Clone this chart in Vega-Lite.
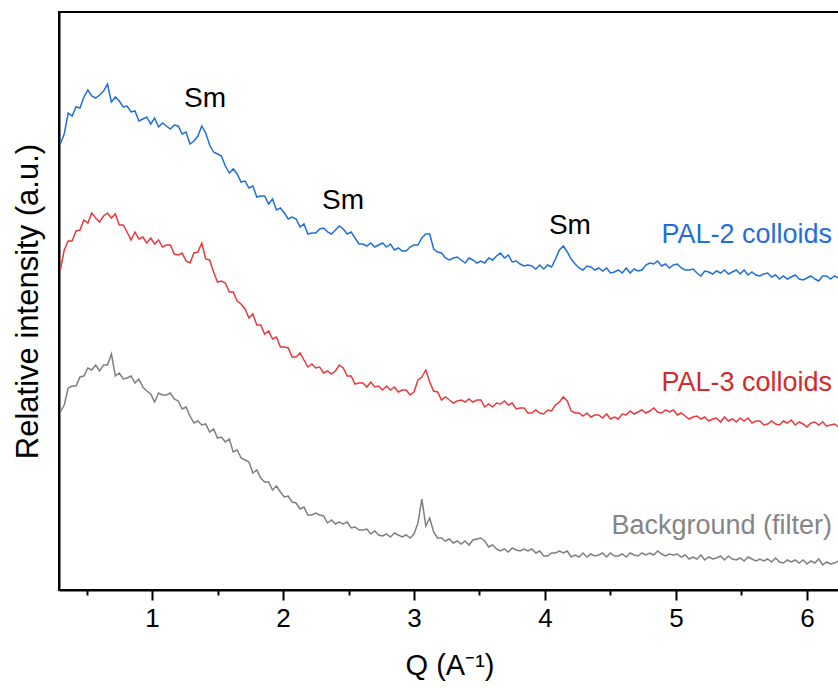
{
"$schema":"https://vega.github.io/schema/vega-lite/v6.json",
"width":781,"height":578,
"autosize":{"type":"none"},
"padding":{"left":59,"top":12,"right":0,"bottom":98},
"background":"white",
"config":{"view":{"stroke":"black","strokeWidth":2},"font":"Liberation Sans"},
"datasets":{
"xrd":[
{"q":0.30,"b":446,"r":320,"g":178},{"q":0.33,"b":456,"r":340,"g":185},{"q":0.36,"b":477,"r":349,"g":202},{"q":0.39,"b":474,"r":349,"g":204},{"q":0.42,"b":483,"r":359,"g":204},{"q":0.45,"b":482,"r":360,"g":213},{"q":0.48,"b":493,"r":370,"g":214},{"q":0.51,"b":500,"r":367,"g":222},{"q":0.54,"b":494,"r":377,"g":220},{"q":0.57,"b":492,"r":372,"g":225},
{"q":0.60,"b":495,"r":368,"g":219},{"q":0.63,"b":499,"r":374,"g":225},{"q":0.66,"b":506,"r":377,"g":225},{"q":0.69,"b":488,"r":372,"g":236},{"q":0.72,"b":493,"r":376,"g":214},{"q":0.75,"b":489,"r":365,"g":217},{"q":0.78,"b":483,"r":365,"g":211},{"q":0.81,"b":484,"r":358,"g":212},{"q":0.84,"b":478,"r":350,"g":214},{"q":0.87,"b":479,"r":358,"g":207},
{"q":0.90,"b":469,"r":351,"g":211},{"q":0.93,"b":471,"r":353,"g":203},{"q":0.96,"b":473,"r":347,"g":199},{"q":0.99,"b":466,"r":352,"g":196},{"q":1.02,"b":472,"r":346,"g":188},{"q":1.05,"b":463,"r":350,"g":197},{"q":1.08,"b":467,"r":343,"g":195},{"q":1.11,"b":464,"r":345,"g":195},{"q":1.14,"b":461,"r":345,"g":197},{"q":1.17,"b":465,"r":336,"g":191},
{"q":1.20,"b":464,"r":335,"g":189},{"q":1.23,"b":456,"r":337,"g":181},{"q":1.26,"b":458,"r":329,"g":183},{"q":1.29,"b":446,"r":327,"g":174},{"q":1.32,"b":449,"r":337,"g":167},{"q":1.35,"b":454,"r":338,"g":169},{"q":1.38,"b":464,"r":347,"g":165},{"q":1.41,"b":457,"r":331,"g":166},{"q":1.44,"b":445,"r":330,"g":158},{"q":1.47,"b":438,"r":318,"g":161},
{"q":1.50,"b":436,"r":308,"g":152},{"q":1.53,"b":434,"r":309,"g":153},{"q":1.56,"b":424,"r":307,"g":148},{"q":1.59,"b":417,"r":298,"g":151},{"q":1.62,"b":421,"r":298,"g":138},{"q":1.65,"b":416,"r":289,"g":140},{"q":1.68,"b":408,"r":286,"g":132},{"q":1.71,"b":409,"r":281,"g":130},{"q":1.74,"b":402,"r":272,"g":128},{"q":1.77,"b":404,"r":276,"g":117},
{"q":1.80,"b":393,"r":265,"g":120},{"q":1.83,"b":394,"r":265,"g":112},{"q":1.86,"b":394,"r":256,"g":108},{"q":1.89,"b":386,"r":259,"g":108},{"q":1.92,"b":391,"r":251,"g":100},{"q":1.95,"b":380,"r":253,"g":104},{"q":1.98,"b":382,"r":243,"g":98},{"q":2.01,"b":377,"r":243,"g":93},{"q":2.04,"b":371,"r":242,"g":94},{"q":2.07,"b":373,"r":233,"g":88},
{"q":2.10,"b":371,"r":233,"g":87},{"q":2.13,"b":363,"r":237,"g":81},{"q":2.16,"b":366,"r":230,"g":83},{"q":2.19,"b":356,"r":223,"g":75},{"q":2.22,"b":357,"r":226,"g":75},{"q":2.25,"b":357,"r":222,"g":77},{"q":2.28,"b":361,"r":223,"g":75},{"q":2.31,"b":362,"r":217,"g":74},{"q":2.34,"b":358,"r":219,"g":67},{"q":2.37,"b":356,"r":216,"g":70},
{"q":2.40,"b":360,"r":219,"g":66},{"q":2.43,"b":364,"r":225,"g":68},{"q":2.46,"b":361,"r":222,"g":66},{"q":2.49,"b":356,"r":214,"g":68},{"q":2.52,"b":358,"r":214,"g":62},{"q":2.55,"b":352,"r":206,"g":63},{"q":2.58,"b":346,"r":207,"g":60},{"q":2.61,"b":346,"r":207,"g":60},{"q":2.64,"b":344,"r":203,"g":61},{"q":2.67,"b":347,"r":208,"g":56},
{"q":2.70,"b":343,"r":203,"g":59},{"q":2.73,"b":345,"r":204,"g":55},{"q":2.76,"b":347,"r":200,"g":54},{"q":2.79,"b":343,"r":204,"g":56},{"q":2.82,"b":346,"r":200,"g":53},{"q":2.85,"b":340,"r":203,"g":57},{"q":2.88,"b":342,"r":198,"g":55},{"q":2.91,"b":339,"r":200,"g":53},{"q":2.94,"b":339,"r":200,"g":55},{"q":2.97,"b":343,"r":195,"g":52},
{"q":3.00,"b":345,"r":198,"g":56},{"q":3.03,"b":345,"r":210,"g":67},{"q":3.06,"b":352,"r":213,"g":91},{"q":3.09,"b":356,"r":220,"g":64},{"q":3.12,"b":356,"r":208,"g":72},{"q":3.15,"b":341,"r":199,"g":58},{"q":3.18,"b":338,"r":198,"g":52},{"q":3.21,"b":337,"r":190,"g":52},{"q":3.24,"b":332,"r":193,"g":49},{"q":3.27,"b":330,"r":190,"g":51},
{"q":3.30,"b":332,"r":187,"g":47},{"q":3.33,"b":333,"r":189,"g":49},{"q":3.36,"b":330,"r":190,"g":46},{"q":3.39,"b":327,"r":188,"g":49},{"q":3.42,"b":332,"r":191,"g":45},{"q":3.45,"b":330,"r":188,"g":50},{"q":3.48,"b":327,"r":190,"g":51},{"q":3.51,"b":329,"r":190,"g":52},{"q":3.54,"b":327,"r":183,"g":49},{"q":3.57,"b":332,"r":186,"g":43},
{"q":3.60,"b":330,"r":183,"g":45},{"q":3.63,"b":334,"r":187,"g":41},{"q":3.66,"b":337,"r":186,"g":39},{"q":3.69,"b":332,"r":189,"g":41},{"q":3.72,"b":335,"r":185,"g":38},{"q":3.75,"b":328,"r":187,"g":42},{"q":3.78,"b":329,"r":181,"g":40},{"q":3.81,"b":326,"r":182,"g":39},{"q":3.84,"b":324,"r":182,"g":41},{"q":3.87,"b":325,"r":177,"g":39},
{"q":3.90,"b":324,"r":177,"g":41},{"q":3.93,"b":321,"r":180,"g":37},{"q":3.96,"b":325,"r":177,"g":39},{"q":3.99,"b":321,"r":176,"g":34},{"q":4.02,"b":325,"r":180,"g":34},{"q":4.05,"b":323,"r":179,"g":37},{"q":4.08,"b":331,"r":185,"g":37},{"q":4.11,"b":340,"r":188,"g":39},{"q":4.14,"b":344,"r":193,"g":37},{"q":4.17,"b":338,"r":189,"g":39},
{"q":4.20,"b":331,"r":179,"g":33},{"q":4.23,"b":326,"r":177,"g":35},{"q":4.26,"b":322,"r":177,"g":33},{"q":4.29,"b":320,"r":174,"g":37},{"q":4.32,"b":324,"r":177,"g":33},{"q":4.35,"b":323,"r":173,"g":36},{"q":4.38,"b":320,"r":175,"g":34},{"q":4.41,"b":322,"r":175,"g":35},{"q":4.44,"b":319,"r":172,"g":37},{"q":4.47,"b":322,"r":176,"g":33},
{"q":4.50,"b":317,"r":171,"g":37},{"q":4.53,"b":318,"r":173,"g":34},{"q":4.56,"b":320,"r":171,"g":34},{"q":4.59,"b":317,"r":176,"g":36},{"q":4.62,"b":322,"r":175,"g":33},{"q":4.65,"b":317,"r":179,"g":37},{"q":4.68,"b":321,"r":176,"g":35},{"q":4.71,"b":319,"r":178,"g":34},{"q":4.74,"b":320,"r":180,"g":37},{"q":4.77,"b":325,"r":177,"g":35},
{"q":4.80,"b":327,"r":179,"g":37},{"q":4.83,"b":326,"r":182,"g":35},{"q":4.86,"b":329,"r":178,"g":39},{"q":4.89,"b":324,"r":177,"g":36},{"q":4.92,"b":326,"r":180,"g":34},{"q":4.95,"b":322,"r":178,"g":36},{"q":4.98,"b":325,"r":180,"g":35},{"q":5.01,"b":326,"r":175,"g":36},{"q":5.04,"b":322,"r":177,"g":33},{"q":5.07,"b":320,"r":174,"g":35},
{"q":5.10,"b":320,"r":171,"g":31},{"q":5.13,"b":321,"r":173,"g":33},{"q":5.16,"b":317,"r":174,"g":31},{"q":5.19,"b":314,"r":171,"g":35},{"q":5.22,"b":319,"r":173,"g":30},{"q":5.25,"b":318,"r":169,"g":33},{"q":5.28,"b":316,"r":171,"g":31},{"q":5.31,"b":319,"r":172,"g":32},{"q":5.34,"b":317,"r":168,"g":34},{"q":5.37,"b":320,"r":173,"g":30},
{"q":5.40,"b":316,"r":169,"g":34},{"q":5.43,"b":318,"r":171,"g":31},{"q":5.46,"b":320,"r":168,"g":30},{"q":5.49,"b":316,"r":172,"g":32},{"q":5.52,"b":320,"r":169,"g":29},{"q":5.55,"b":315,"r":172,"g":33},{"q":5.58,"b":318,"r":167,"g":31},{"q":5.61,"b":315,"r":169,"g":29},{"q":5.64,"b":314,"r":169,"g":31},{"q":5.67,"b":316,"r":165,"g":29},
{"q":5.70,"b":317,"r":166,"g":31},{"q":5.73,"b":313,"r":169,"g":28},{"q":5.76,"b":315,"r":166,"g":32},{"q":5.79,"b":311,"r":165,"g":28},{"q":5.82,"b":314,"r":169,"g":27},{"q":5.85,"b":311,"r":167,"g":30},{"q":5.88,"b":313,"r":170,"g":28},{"q":5.91,"b":315,"r":165,"g":30},{"q":5.94,"b":311,"r":168,"g":27},{"q":5.97,"b":310,"r":166,"g":30},
{"q":6.00,"b":312,"r":163,"g":26},{"q":6.03,"b":314,"r":167,"g":29},{"q":6.06,"b":311,"r":168,"g":27},{"q":6.09,"b":309,"r":165,"g":31},{"q":6.12,"b":314,"r":168,"g":25},{"q":6.15,"b":314,"r":164,"g":28},{"q":6.18,"b":311,"r":165,"g":26},{"q":6.21,"b":314,"r":166,"g":27},{"q":6.24,"b":312,"r":163,"g":29},{"q":6.27,"b":313,"r":165,"g":27}
],
"sm":[{"q":1.405,"h":491,"label":"Sm"},{"q":2.458,"h":389,"label":"Sm"},{"q":4.19,"h":364,"label":"Sm"}],
"names":[{"q":6.191,"h":355,"label":"PAL-2 colloids","s":"b"},{"q":6.191,"h":207,"label":"PAL-3 colloids","s":"r"},{"q":6.191,"h":64,"label":"Background (filter)","s":"g"}]
},
"layer":[
{"data":{"name":"xrd"},
 "transform":[{"fold":["b","r","g"],"as":["series","h"]}],
 "mark":{"type":"line","strokeWidth":1.5,"clip":true},
 "encoding":{
  "x":{"field":"q","type":"quantitative","scale":{"domain":[0.29,6.252],"nice":false,"zero":false},
   "axis":{"values":[0.5,1,1.5,2,2.5,3,3.5,4,4.5,5,5.5,6],"labelExpr":"datum.value % 1 === 0 ? format(datum.value,'d') : ''",
    "tickSize":{"condition":{"test":"datum.value % 1 !== 0","value":5},"value":10},
    "tickColor":"black","tickWidth":2,"domainColor":"black","domainWidth":2,"grid":false,
    "labelFontSize":26,"labelColor":"black","labelPadding":5,"labelFlush":false,
    "title":"Q (A⁻¹)","titleFontSize":29,"titleFontWeight":"normal","titleColor":"black","titlePadding":20}},
  "y":{"field":"h","type":"quantitative","scale":{"domain":[0,578],"nice":false,"zero":false},
   "axis":{"labels":false,"ticks":false,"grid":false,"domainColor":"black","domainWidth":2,
    "title":"Relative intensity (a.u.)","titleFontSize":31,"titleFontWeight":"normal","titleColor":"black","titlePadding":15}},
  "color":{"field":"series","type":"nominal","scale":{"domain":["b","r","g"],"range":["#1f6fd9","#e8393e","#7f7f7f"]},"legend":null}
 }},
{"data":{"name":"sm"},
 "mark":{"type":"text","fontSize":28,"align":"center","baseline":"middle","color":"black"},
 "encoding":{"x":{"field":"q","type":"quantitative"},"y":{"field":"h","type":"quantitative"},"text":{"field":"label"}}},
{"data":{"name":"names"},
 "mark":{"type":"text","fontSize":27,"align":"right","baseline":"middle"},
 "encoding":{"x":{"field":"q","type":"quantitative"},"y":{"field":"h","type":"quantitative"},"text":{"field":"label"},
  "color":{"field":"s","type":"nominal","scale":{"domain":["b","r","g"],"range":["#1f6fd9","#d42a2a","#858585"]},"legend":null}}}
],
"resolve":{"scale":{"color":"independent"}}
}
